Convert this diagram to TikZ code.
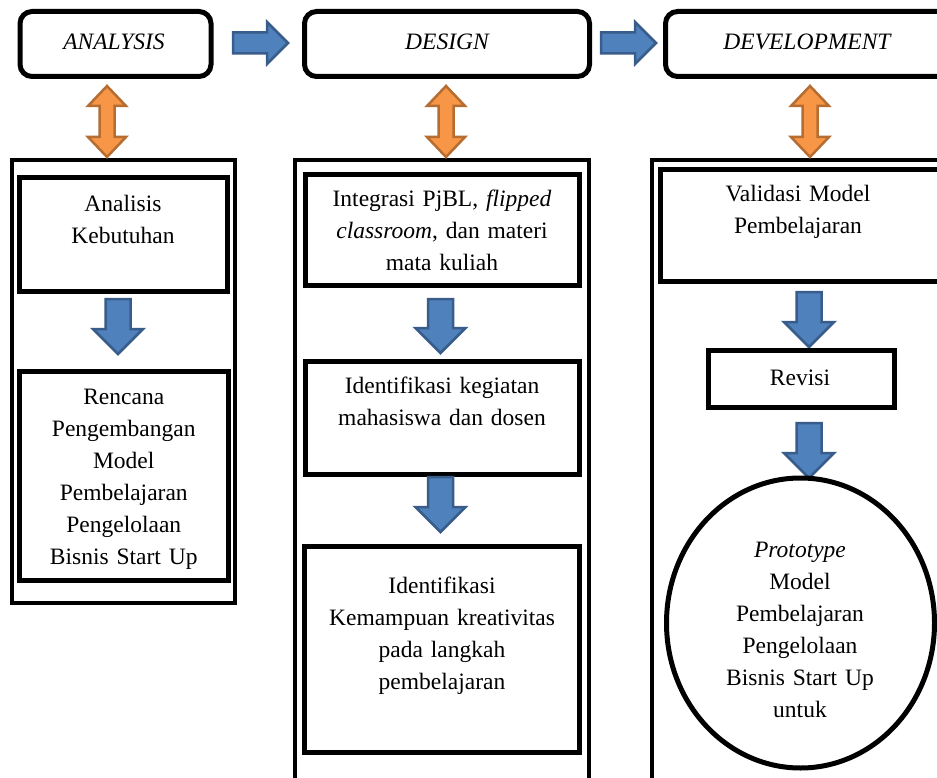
\documentclass[tikz,border=0pt]{standalone}
\usepackage{fontspec}
\setmainfont{Liberation Serif}
\usetikzlibrary{calc,shapes.geometric}
\definecolor{bluefill}{HTML}{4F81BD}
\definecolor{blueedge}{HTML}{385D8A}
\definecolor{orfill}{HTML}{F79646}
\definecolor{oredge}{HTML}{B66D31}
\tikzset{
  phase/.style={draw, line width=5pt, rounded corners=12pt, inner sep=0pt},
  outerbox/.style={draw, line width=4.5pt, inner sep=0pt},
  innerbox/.style={draw, line width=5pt, inner sep=0pt},
  txt/.style={inner sep=0pt, align=center, font=\fontsize{23.5}{32}\selectfont},
  ttl/.style={inner sep=0pt, font=\fontsize{23.5}{28}\selectfont\itshape},
  bluearrow/.style={fill=bluefill, draw=blueedge, line width=2.5pt, line join=miter},
  orarrow/.style={fill=orfill, draw=oredge, line width=2.5pt, line join=miter}
}
% down block arrow: #1 = x centre, #2 = top y, #3 = tip y
\newcommand{\downarr}[3]{%
  \draw[bluearrow] (#1-12.5,#2) -- (#1+12.5,#2) -- (#1+12.5,#3-25) -- (#1+25,#3-25)
    -- (#1,#3) -- (#1-25,#3-25) -- (#1-12.5,#3-25) -- cycle;}
% right block arrow: #1 = left x, #2 = tip x, #3 = y centre
\newcommand{\rightarr}[3]{%
  \draw[bluearrow] (#1,#3-10.5) -- (#2-21,#3-10.5) -- (#2-21,#3-21) -- (#2,#3)
    -- (#2-21,#3+21) -- (#2-21,#3+10.5) -- (#1,#3+10.5) -- cycle;}
% vertical double block arrow: #1 = x centre, #2 = top y, #3 = bottom y
\newcommand{\updownarr}[3]{%
  \draw[orarrow] (#1,#2) -- (#1+19,#2+20) -- (#1+7.5,#2+20) -- (#1+7.5,#3-20)
    -- (#1+19,#3-20) -- (#1,#3) -- (#1-19,#3-20) -- (#1-7.5,#3-20)
    -- (#1-7.5,#2+20) -- (#1-19,#2+20) -- cycle;}
\begin{document}
\begin{tikzpicture}[x=1pt, y=-1pt]
\useasboundingbox (0,0) rectangle (937,778);
\clip (0,0) rectangle (937,778);
\fill[white] (0,0) rectangle (937,778);

% phase boxes
\node[phase, minimum width=191pt, minimum height=65pt] (an) at (115.5,44) {};
\node[ttl] at (114,42) {ANALYSIS};
\node[phase, minimum width=285pt, minimum height=65pt] (de) at (447,44) {};
\node[ttl] at (447,42) {DESIGN};
\node[phase, minimum width=300pt, minimum height=65pt] (dv) at (815.5,44) {};
\node[ttl] at (807,42) {DEVELOPMENT};

% arrows between phases
\rightarr{233}{288}{43}
\rightarr{601}{656}{43}

% outer containers
\node[outerbox, minimum width=223pt, minimum height=443pt] (anc) at (123.5,381.5) {};
\node[outerbox, minimum width=294pt, minimum height=640pt] (dec) at (442,480) {};
\node[outerbox, minimum width=300pt, minimum height=640pt] (dvc) at (802,480) {};

% orange double arrows
\updownarr{107}{86}{157}
\updownarr{446}{86}{157}
\updownarr{810}{86}{157}

% ANALYSIS column
\node[innerbox, minimum width=207.5pt, minimum height=113.5pt] (a1) at (123.25,234.75) {};
\node[txt, text width=200pt, anchor=base] at (123,212) {Analisis\\Kebutuhan};
\downarr{118}{299}{354}
\node[innerbox, minimum width=208.5pt, minimum height=208.5pt] (a2) at (123.75,475.75) {};
\node[txt, text width=205pt, anchor=base] at (123.75,404) {Rencana\\Pengembangan\\Model\\Pembelajaran\\Pengelolaan\\Bisnis Start Up};

% DESIGN column
\node[innerbox, minimum width=274.5pt, minimum height=111pt] (d1) at (442.25,230) {};
\node[txt, text width=270pt, anchor=base] at (442,207) {Integrasi PjBL, \textit{flipped}\\\textit{classroom}, dan materi\\mata kuliah};
\downarr{440.5}{299}{353}
\node[innerbox, minimum width=274.5pt, minimum height=113pt] (d2) at (442.25,418) {};
\node[txt, text width=270pt, anchor=base] at (442,393) {Identifikasi kegiatan\\mahasiswa dan dosen};
\downarr{440.5}{477}{532}
\node[innerbox, minimum width=275pt, minimum height=206pt] (d3) at (442,649.5) {};
\node[txt, text width=270pt, anchor=base] at (442,593) {Identifikasi\\Kemampuan kreativitas\\pada langkah\\pembelajaran};

% DEVELOPMENT column
\node[innerbox, minimum width=289.5pt, minimum height=112pt] (v1) at (805.25,225.5) {};
\node[txt, text width=270pt, anchor=base] at (798,202) {Validasi Model\\Pembelajaran};
\downarr{809}{292}{347}
\node[innerbox, minimum width=185.5pt, minimum height=56.5pt] (v2) at (801.25,378.75) {};
\node[txt, anchor=base] at (800,385) {Revisi};
\downarr{809}{423}{478}
\node[draw, ellipse, line width=5pt, minimum width=268pt, minimum height=290pt, inner sep=0pt] (v3) at (800.5,623) {};
\node[txt, text width=250pt, anchor=base] at (800,557) {\textit{Prototype}\\Model\\Pembelajaran\\Pengelolaan\\Bisnis Start Up\\untuk};
\end{tikzpicture}
\end{document}
